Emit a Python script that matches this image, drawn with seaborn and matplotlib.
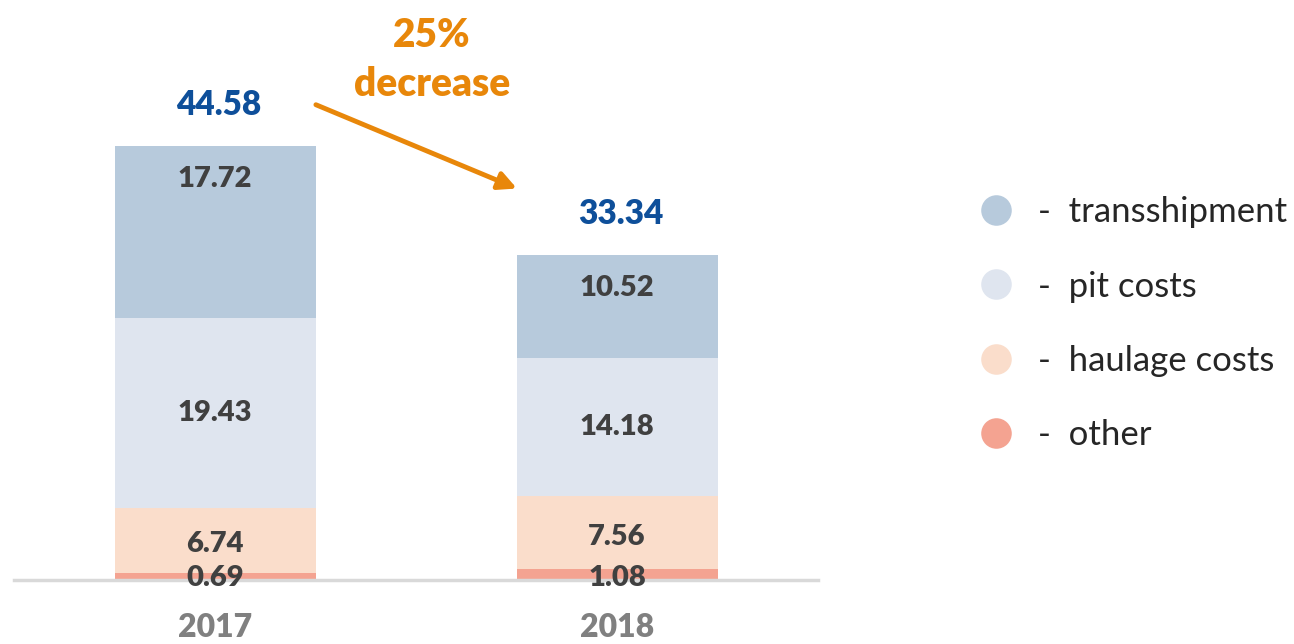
import pandas as pd
import seaborn as sns
import matplotlib.pyplot as plt
from matplotlib.lines import Line2D

# data
years = ["2017", "2018"]
other = [0.69, 1.08]
haulage = [6.74, 7.56]
pit = [19.43, 14.18]
transshipment = [17.72, 10.52]

series = ["transshipment", "pit costs", "haulage costs", "other"]
colors = {"transshipment": "#B7CADC", "pit costs": "#DFE5EF",
          "haulage costs": "#FADDCB", "other": "#F4A391"}

df = pd.DataFrame({"year": years, "other": other, "haulage costs": haulage,
                   "pit costs": pit, "transshipment": transshipment})
# cumulative heights so the bars can be overlaid (tallest first)
df["cum_other"] = df["other"]
df["cum_haulage costs"] = df["cum_other"] + df["haulage costs"]
df["cum_pit costs"] = df["cum_haulage costs"] + df["pit costs"]
df["cum_transshipment"] = df["cum_pit costs"] + df["transshipment"]
df["total"] = df["cum_transshipment"].round(2)

sns.set_theme(style="white")
plt.rcParams["font.family"] = ["Lato", "DejaVu Sans"]

fig = plt.figure(figsize=(12.94, 6.44), dpi=100)
ax = fig.add_axes([14 / 1294, 64 / 644, 804 / 1294, 560 / 644])

for s in series:
    sns.barplot(data=df, x="year", y=f"cum_{s}", color=colors[s],
                width=0.5, saturation=1, linewidth=0, ax=ax, zorder=2)

ax.set_xlim(-0.5, 1.5)
ax.set_ylim(0, 57.5)

label_color = "#404040"
seg_kw = dict(ha="center", va="center", fontsize=21, fontweight="heavy",
              color=label_color, zorder=4)
for i, row in df.iterrows():
    # segment labels
    ax.text(i, row["cum_transshipment"] - 3.4, f"{row['transshipment']:.2f}", **seg_kw)
    mid_pit = row["cum_haulage costs"] + row["pit costs"] / 2
    ax.text(i, mid_pit, f"{row['pit costs']:.2f}", **seg_kw)
    mid_h = row["cum_other"] + row["haulage costs"] / 2 - 0.4
    ax.text(i, mid_h, f"{row['haulage costs']:.2f}", **seg_kw)
    ax.text(i, 0.2, f"{row['other']:.2f}", **seg_kw)
    # totals
    ax.text(i + 0.01, row["total"] + 4.2, f"{row['total']:.2f}", ha="center", va="center",
            fontsize=24, fontweight="heavy", color="#0E4F9A", zorder=4)

# change annotation
pct = round((1 - df["total"].iloc[1] / df["total"].iloc[0]) * 100)
ax.annotate("", xy=(0.751, 40.2), xytext=(0.251, 48.8),
            arrowprops=dict(arrowstyle="-|>,head_length=0.9,head_width=0.45",
                            color="#E8870A", lw=3.5, shrinkA=0, shrinkB=0))
ax.text(0.54, 53.4, f"{pct}%\ndecrease", ha="center", va="center",
        fontsize=28, fontweight="heavy", color="#E8870A", linespacing=1.4)

for side in ["top", "left", "right"]:
    ax.spines[side].set_visible(False)
ax.spines["bottom"].set_color("#D9D9D9")
ax.spines["bottom"].set_linewidth(2.5)
ax.spines["bottom"].set_zorder(3)
ax.set_yticks([])
ax.set_xlabel("")
ax.set_ylabel("")
ax.tick_params(axis="x", length=0, pad=24)
for t in ax.get_xticklabels():
    t.set_fontsize(23)
    t.set_fontweight("heavy")
    t.set_color("#808080")

handles = [Line2D([], [], marker="o", linestyle="none", markersize=22,
                  markerfacecolor=colors[s], markeredgecolor="none") for s in series]
fig.legend(handles, [f"-  {s}" for s in series], loc="upper left",
           bbox_to_anchor=(944 / 1294, 1 - 165 / 644), frameon=False,
           fontsize=25, labelspacing=1.22, handletextpad=0.6, handlelength=1.2)

fig.savefig("out.png", dpi=100, facecolor="white")
